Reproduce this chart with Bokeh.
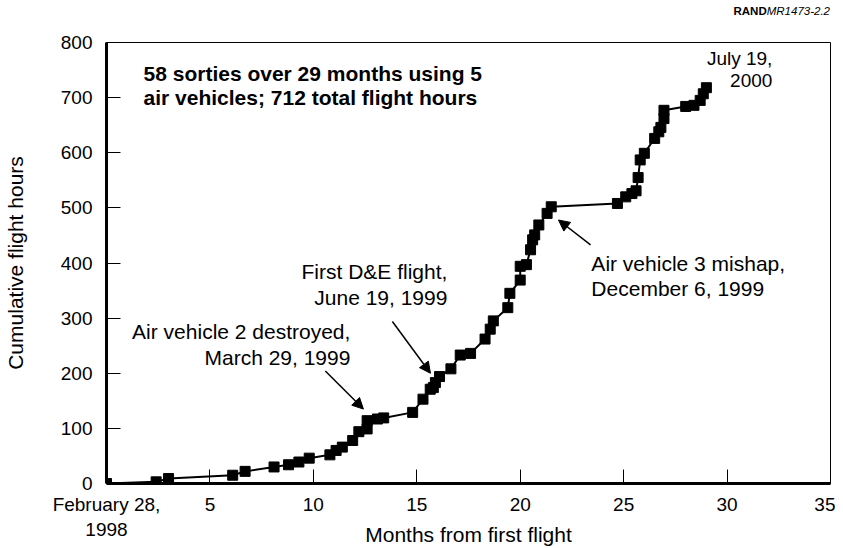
from bokeh.plotting import figure
from bokeh.models import Range1d, Label, Arrow, NormalHead, ColumnDataSource, Div
from bokeh.layouts import column
from bokeh.embed import file_html
from bokeh.resources import INLINE

# Data: months from first flight vs cumulative flight hours
months = [0, 2.4, 3.0, 6.1, 6.7, 8.1, 8.8, 9.3, 9.8, 10.8, 11.1, 11.4, 11.9, 12.2,
          12.6, 12.6, 13.1, 13.4, 14.8, 15.3, 15.65, 15.8, 15.9, 16.1, 16.65, 17.1,
          17.6, 18.3, 18.55, 18.7, 19.4, 19.5, 20.0, 20.0, 20.3, 20.5, 20.6, 20.7,
          20.9, 21.3, 21.5, 24.7, 25.1, 25.4, 25.6, 25.7, 25.8, 26.0, 26.5, 26.7,
          26.8, 26.95, 26.95, 28.0, 28.4, 28.7, 28.85, 29.0]
hours = [0, 3, 9, 15, 22, 30, 34, 39, 46, 52, 60, 66, 78, 94,
         99, 114, 117, 119, 129, 153, 171, 174, 183, 194, 208, 233,
         236, 262, 280, 295, 319, 345, 369, 394, 397, 424, 442, 451,
         469, 490, 502, 508, 520, 526, 531, 555, 587, 599, 626, 638,
         646, 662, 677, 684, 686, 695, 707, 718]

x_ticks = [0, 5, 10, 15, 20, 25, 30, 35]
y_ticks = [0, 100, 200, 300, 400, 500, 600, 700, 800]
x_tick_overrides = {0: "February 28,\n1998"}

FONT = "Liberation Sans"
W = 835
DIV_H = 22
H = 548 - DIV_H

header = Div(text="<b>RAND</b><i>MR1473-2.2</i>", width=W, height=DIV_H, margin=(0, 0, 0, 0),
             styles={"text-align": "right", "font-family": FONT, "font-size": "11.5px",
                     "color": "black", "padding-top": "5px", "padding-right": "5px",
                     "box-sizing": "border-box", "width": f"{W}px", "line-height": "13px"})

p = figure(width=W, height=H, output_backend="svg", toolbar_location=None,
           x_range=Range1d(0, 35), y_range=Range1d(0, 800),
           min_border_left=106, min_border_right=5, min_border_top=20, min_border_bottom=63)
p.grid.visible = False
p.outline_line_color = "black"
p.outline_line_width = 1
p.background_fill_color = "white"
p.border_fill_color = "white"

src = ColumnDataSource(dict(x=months, y=hours))
p.line("x", "y", source=src, line_color="black", line_width=2)
p.scatter("x", "y", source=src, marker="square", size=10, fill_color="black", line_color="black")

for ax in (p.xaxis[0], p.yaxis[0]):
    ax.axis_line_width = 3
    ax.axis_line_color = "black"
    ax.major_tick_in = 14
    ax.major_tick_out = 0
    ax.minor_tick_in = 0
    ax.minor_tick_out = 0
    ax.major_tick_line_color = "black"
    ax.major_tick_line_width = 1
    ax.major_label_text_font = FONT
    ax.major_label_text_font_size = "19px"
    ax.major_label_text_color = "black"
    ax.axis_label_text_font = FONT
    ax.axis_label_text_font_style = "normal"
    ax.axis_label_text_color = "black"
    ax.axis_label_text_font_size = "21px"

p.xaxis.ticker = x_ticks
p.yaxis.ticker = y_ticks
p.xaxis.major_label_overrides = x_tick_overrides
p.xaxis.axis_label = "Months from first flight"
p.yaxis.axis_label = "Cumulative flight hours"
p.xaxis.major_label_standoff = 10
p.yaxis.major_label_standoff = 14
p.xaxis.axis_label_standoff = -20
p.yaxis.axis_label_standoff = 31


def lab(x, y, text, align="left", size="21px", style="normal"):
    p.add_layout(Label(x=x, y=y, text=text, text_align=align, text_baseline="middle",
                       text_font=FONT, text_font_size=size, text_font_style=style,
                       text_color="black"))


lab(1.79, 744, "58 sorties over 29 months using 5", style="bold")
lab(1.79, 700, "air vehicles; 712 total flight hours", style="bold")
lab(32.19, 771, "July 19,", align="right", size="19px")
lab(32.19, 731, "2000", align="right", size="19px")
lab(23.44, 399, "Air vehicle 3 mishap,")
lab(23.44, 354, "December 6, 1999")
lab(16.48, 385, "First D&E flight,", align="right")
lab(16.48, 338, "June 19, 1999", align="right")
lab(11.79, 276, "Air vehicle 2 destroyed,", align="right")
lab(11.79, 229, "March 29, 1999", align="right")


def arrow(x0, y0, x1, y1):
    p.add_layout(Arrow(x_start=x0, y_start=y0, x_end=x1, y_end=y1, line_width=1.5,
                       line_color="black",
                       end=NormalHead(size=11, fill_color="black", line_color="black")))


arrow(10.58, 204, 12.42, 135)
arrow(13.82, 294, 15.66, 200)
arrow(23.4, 433, 21.85, 478)

layout = column(header, p, spacing=0)
open("out.html", "w").write(file_html(layout, INLINE))
